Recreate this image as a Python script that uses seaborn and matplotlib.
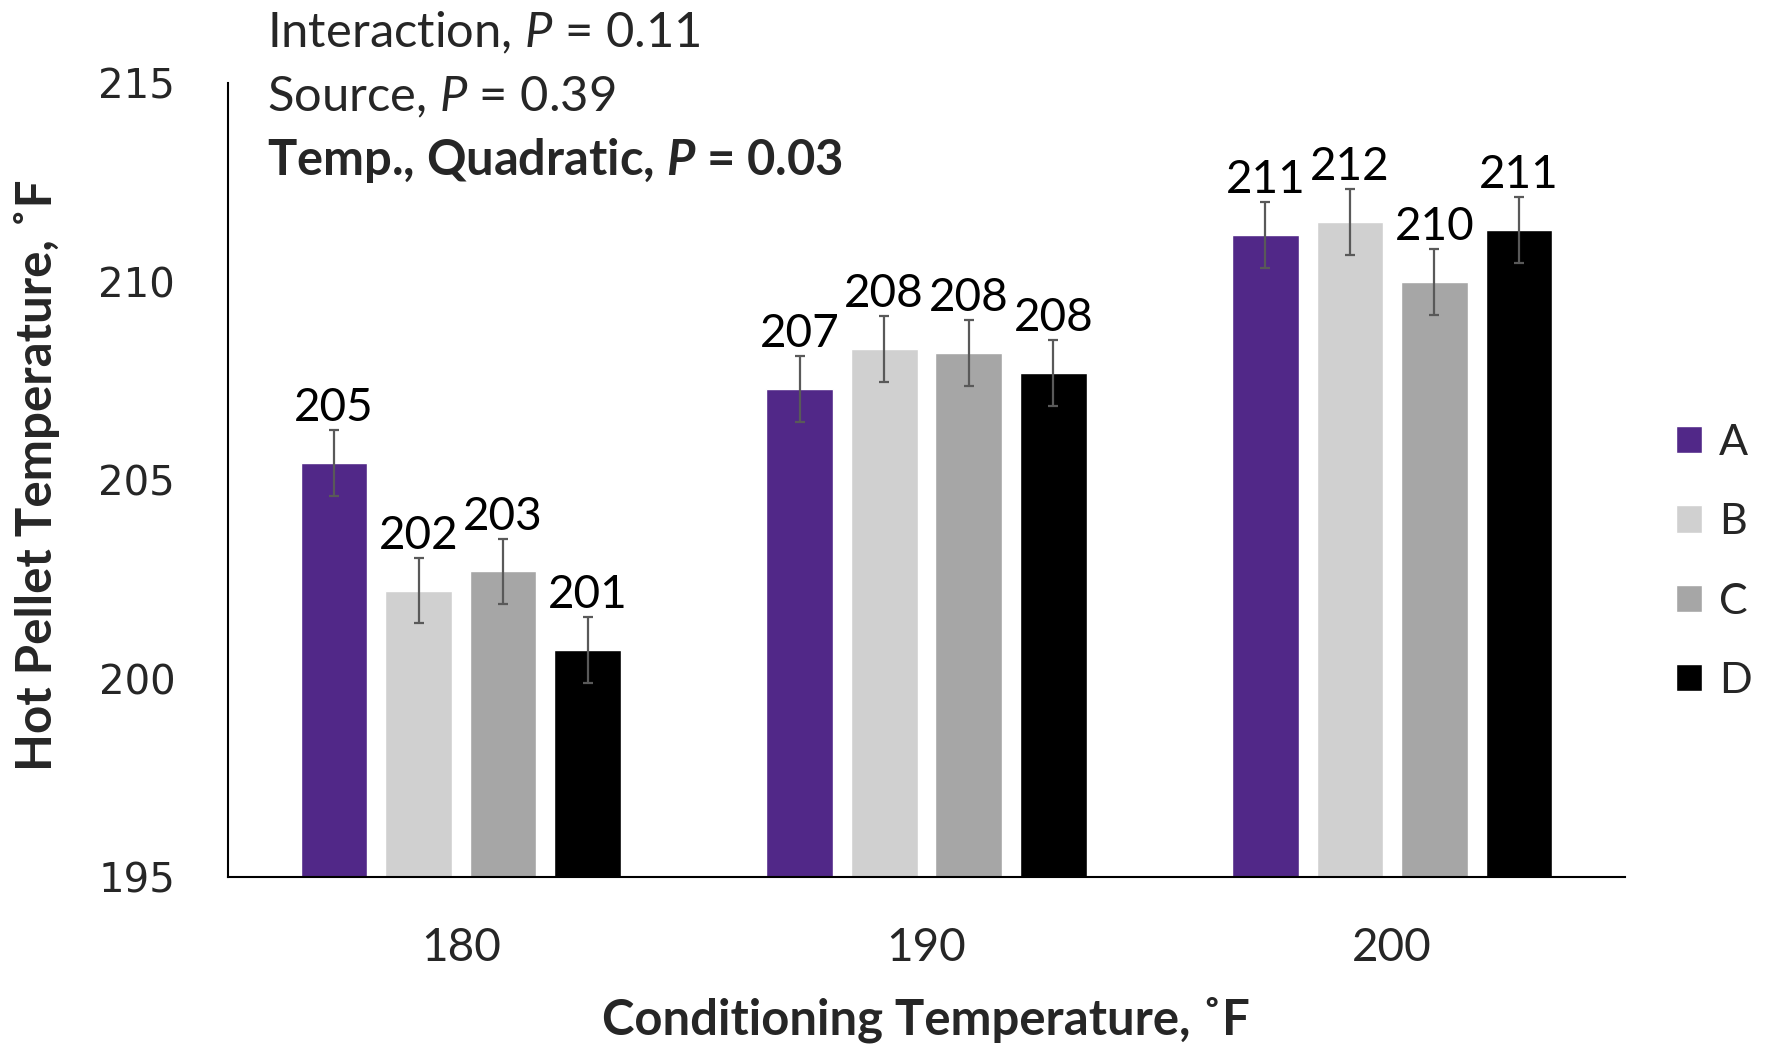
import matplotlib
matplotlib.use("Agg")
import matplotlib.pyplot as plt
import seaborn as sns
import pandas as pd

# ---- data ----
conditioning = ["180", "190", "200"]
sources = ["A", "B", "C", "D"]
values_A = [205.43, 207.30, 211.19]
values_B = [202.22, 208.30, 211.51]
values_C = [202.70, 208.21, 210.00]
values_D = [200.71, 207.70, 211.31]
sem = [0.83, 0.83, 0.83]
labels_A = ["205", "207", "211"]
labels_B = ["202", "208", "212"]
labels_C = ["203", "208", "210"]
labels_D = ["201", "208", "211"]
yticks = [195, 200, 205, 210, 215]
stats_lines = ["Interaction, $P$ = 0.11", "Source, $P$ = 0.39",
               r"Temp., Quadratic, $\mathbfit{P}$ = 0.03"]

series = {"A": values_A, "B": values_B, "C": values_C, "D": values_D}
labels = {"A": labels_A, "B": labels_B, "C": labels_C, "D": labels_D}
colors = {"A": "#512888", "B": "#D0D0D0", "C": "#A6A6A6", "D": "#000000"}

rows = []
for s in sources:
    for c, v in zip(conditioning, series[s]):
        rows.append({"cond": c, "value": v, "source": s})
df = pd.DataFrame(rows)

sns.set_theme(style="white")
plt.rcParams["font.family"] = ["Lato", "DejaVu Sans"]
plt.rcParams["mathtext.fontset"] = "custom"
plt.rcParams["mathtext.rm"] = "Lato"
plt.rcParams["mathtext.it"] = "Lato:italic"
plt.rcParams["mathtext.bf"] = "Lato:bold"
plt.rcParams["mathtext.bfit"] = "Lato:italic:bold"

fig = plt.figure(figsize=(17.67, 10.45), dpi=100)
ax = fig.add_axes([228 / 1767, 1 - 877 / 1045, (1625 - 228) / 1767, (877 - 83.4) / 1045])

sns.barplot(data=df, x="cond", y="value", hue="source", order=conditioning,
            hue_order=sources, palette=colors, width=0.726, gap=0.21,
            errorbar=None, ax=ax, saturation=1, legend=True)

handles, leg_labels = ax.get_legend_handles_labels()
if ax.get_legend() is not None:
    ax.get_legend().remove()

for cont, s in zip(ax.containers, sources):
    xs = [b.get_x() + b.get_width() / 2 for b in cont]
    ys = [b.get_height() for b in cont]
    ax.errorbar(xs, ys, yerr=sem, fmt="none", ecolor="#595959",
                elinewidth=1.6, capsize=3.6, capthick=1.6, zorder=5)
    for x, y, e, lab in zip(xs, ys, sem, labels[s]):
        ax.annotate(lab, (x, y + e), xytext=(0, 6.5), textcoords="offset points",
                    ha="center", va="baseline", fontsize=33, color="black")

ax.set_ylim(195, 215)
ax.set_xlim(-0.5, 2.5)
ax.set_yticks(yticks)
ax.set_yticklabels([str(t) for t in yticks], fontfamily="DejaVu Sans", fontsize=29)
ax.tick_params(axis="y", length=0, pad=38)
ax.tick_params(axis="x", length=0, pad=36, labelsize=33)
ax.set_xlabel("")
ax.set_ylabel("")
for sp in ["top", "right"]:
    ax.spines[sp].set_visible(False)
for sp in ["left", "bottom"]:
    ax.spines[sp].set_color("black")
    ax.spines[sp].set_linewidth(1.5)
ax.grid(False)

fig.text(926 / 1767, 1 - 1020 / 1045, "Conditioning Temperature, ˚F", ha="center",
         va="center", fontsize=35.3, fontweight="bold")
fig.text(37 / 1767, 1 - 475 / 1045, "Hot Pellet Temperature, ˚F", ha="center",
         va="center", rotation=90, fontsize=35.5, fontweight="bold")

ys_txt = [1 - 47 / 1045, 1 - 111 / 1045, 1 - 175 / 1045]
for i, (t, yy) in enumerate(zip(stats_lines, ys_txt)):
    fig.text(267 / 1767, yy, t, ha="left", va="baseline", fontsize=35.2,
             fontweight="bold" if i == 2 else "normal")

fig.legend(handles, leg_labels, loc="center left",
           bbox_to_anchor=(1676 / 1767, 1 - 562 / 1045), frameon=False,
           fontsize=31, handlelength=0.6, handleheight=0.6,
           handletextpad=0.39, labelspacing=0.96, borderpad=0, borderaxespad=0)

fig.savefig("out.png", dpi=100, facecolor="white")
